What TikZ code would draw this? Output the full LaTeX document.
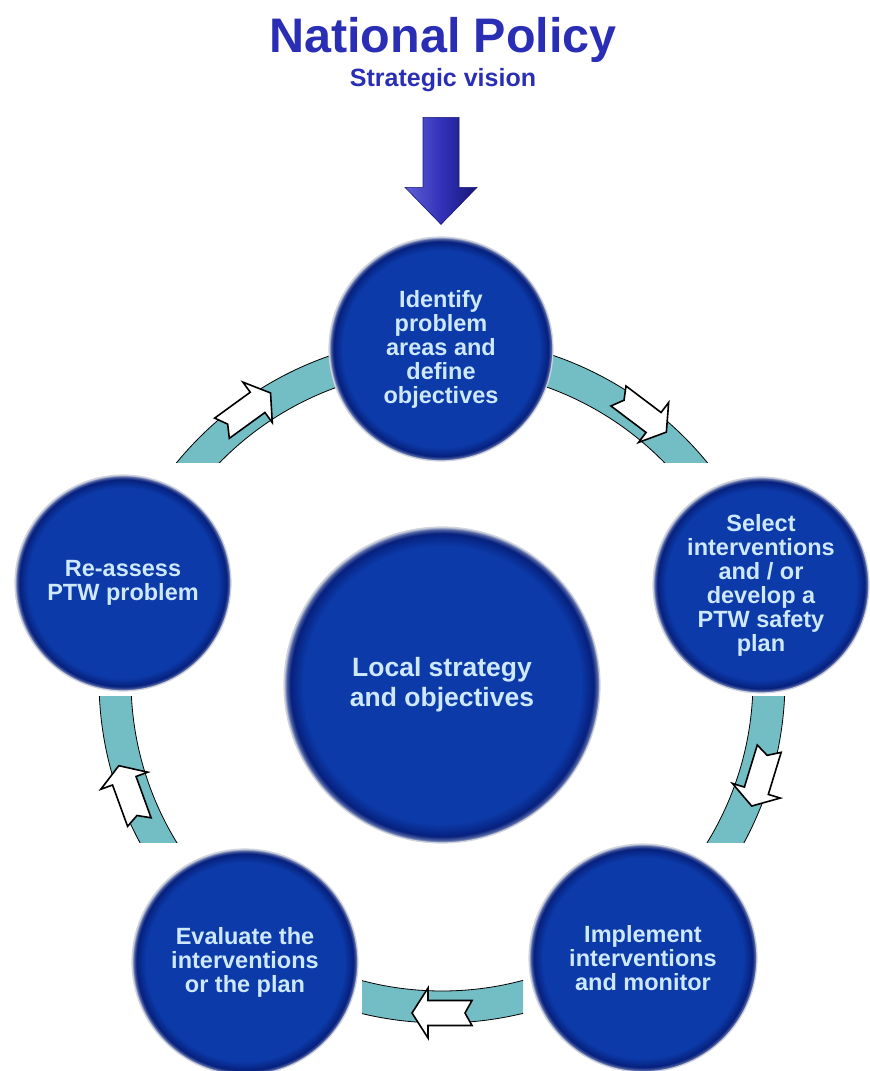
\documentclass[tikz,border=0pt]{standalone}
\usepackage{fontspec}
\setmainfont{Liberation Sans}
\usetikzlibrary{positioning}

% Colors
\definecolor{discblue}{RGB}{12,58,168} % disc body
\definecolor{discrim}{RGB}{6,32,125} % dark rim
\definecolor{discedge}{RGB}{205,210,220} % pale outer edge
\definecolor{disctext}{RGB}{205,232,255}
\definecolor{titleblue}{RGB}{42,46,180}
\definecolor{arrowlight}{RGB}{95,95,215}
\definecolor{arrowblue}{RGB}{50,50,185}
\definecolor{arrowdark}{RGB}{22,22,120}
\definecolor{bandteal}{RGB}{115,190,196}

\pgfdeclareradialshading{stagedisc}{\pgfpoint{0bp}{0bp}}{color(0bp)=(discblue); color(22bp)=(discblue); color(24bp)=(discrim); color(24.6bp)=(discrim!70!white); color(25bp)=(discedge); color(50bp)=(discedge)}

\begin{document}
\begin{tikzpicture}[
    x=1pt, y=1pt,
    stage/.style={circle, shading=stagedisc, draw=discedge, line width=1.2pt, inner sep=0pt, align=center, text=disctext, font=\fontsize{23.5}{24}\selectfont\bfseries},
    headline/.style={text=titleblue, font=\fontsize{48.5}{50}\selectfont\bfseries},
    subline/.style={text=titleblue, font=\fontsize{25}{26}\selectfont\bfseries},
    band/.style={fill=bandteal, draw=black, line width=0.8pt, even odd rule},
    flowarrow/.style={fill=white, draw=black, line width=1.6pt, line join=miter},
    bigarrow/.style={left color=arrowlight, right color=arrowdark, middle color=arrowblue, draw=arrowdark, line width=0.6pt}
]
\useasboundingbox (0,0) rectangle (870,1071);

\coordinate (ring_c) at (442,391);

% Band behind the stages
\foreach \xa/\ya/\xb/\yb in {0/608/442/1071, 442/608/870/1071, 442/228/870/374, 362/0/523/228, 0/228/442/374}{
  \begin{scope}
    \clip (\xa,\ya) rectangle (\xb,\yb);
    \draw[band] (ring_c) circle (343) (ring_c) circle (311);
  \end{scope}
}

% Arrows on the band, clockwise
\foreach \a in {53,-17,-90,200,126}{
  \begin{scope}[shift={(ring_c)}, shift={(\a:333)}, rotate=\a-90]
    \draw[flowarrow] (30,0) -- (14,25) -- (14,12.5) -- (-30,12.5) -- (-23,0) -- (-30,-12.5) -- (14,-12.5) -- (14,-25) -- cycle;
  \end{scope}
}

% Nodes
\node (national) [headline, anchor=base] at (443,1018) {National Policy};
\node (vision) [subline, anchor=base] at (443,984) {Strategic vision};

\node (identify) [stage, minimum size=224pt] at (441,722) {Identify\\problem\\areas and\\define\\objectives};
\node (select) [stage, minimum size=216pt] at (761,486) {Select\\interventions\\and / or\\develop a\\PTW safety\\plan};
\node (implement) [stage, minimum size=228pt] at (643,113) {Implement\\interventions\\and monitor};
\node (evaluate) [stage, minimum size=226pt] at (245,109) {Evaluate the\\interventions\\or the plan};
\node (reassess) [stage, minimum size=216pt] at (123,488) {Re-assess\\PTW problem};

\node (local) [stage, minimum size=316pt, font=\fontsize{26.5}{30}\selectfont\bfseries] at (442,386) {Local strategy\\and objectives};

% Edges
\coordinate (arrow_tip) at ([yshift=12pt]identify.north);
\draw[bigarrow] (arrow_tip) -- ++(-36,37) -- ++(18,0) -- ++(0,70) -- ++(36,0) -- ++(0,-70) -- ++(18,0) -- cycle;

\end{tikzpicture}
\end{document}
